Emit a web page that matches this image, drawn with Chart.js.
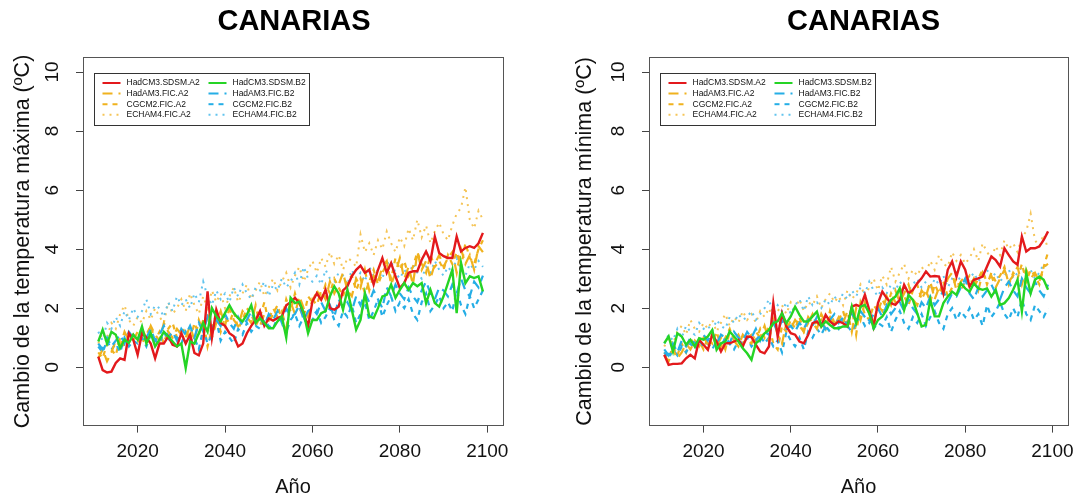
<!DOCTYPE html>
<html lang="es">
<head>
<meta charset="UTF-8">
<title>Canarias</title>
<script src="https://cdn.jsdelivr.net/npm/chart.js@4.4.1/dist/chart.umd.min.js"></script>
<style>
    html, body { margin: 0; padding: 0; background: #fff; }
    #wrap { position: relative; width: 1082px; height: 499px; }
    canvas { position: absolute; top: 0; }
    #tmax { left: 0; }
    #tmin { left: 541px; }
</style>
</head>
<body>
<div id="wrap">
    <canvas id="tmax" width="541" height="499"></canvas>
    <canvas id="tmin" width="541" height="499"></canvas>
</div>
<script>
    var years = [2011,2012,2013,2014,2015,2016,2017,2018,2019,2020,
        2021,2022,2023,2024,2025,2026,2027,2028,2029,2030,
        2031,2032,2033,2034,2035,2036,2037,2038,2039,2040,
        2041,2042,2043,2044,2045,2046,2047,2048,2049,2050,
        2051,2052,2053,2054,2055,2056,2057,2058,2059,2060,
        2061,2062,2063,2064,2065,2066,2067,2068,2069,2070,
        2071,2072,2073,2074,2075,2076,2077,2078,2079,2080,
        2081,2082,2083,2084,2085,2086,2087,2088,2089,2090,
        2091,2092,2093,2094,2095,2096,2097,2098,2099];
    var xTicks = [2020, 2040, 2060, 2080, 2100];
    var yTicks = [0, 2, 4, 6, 8, 10];
    var seriesNames = ['HadCM3.SDSM.A2', 'HadAM3.FIC.A2', 'CGCM2.FIC.A2', 'ECHAM4.FIC.A2',
        'HadCM3.SDSM.B2', 'HadAM3.FIC.B2', 'CGCM2.FIC.B2', 'ECHAM4.FIC.B2'];

    // temperatura maxima
    var maxSdsmA2 = [0.36,-0.1,-0.18,-0.15,0.14,0.3,0.25,1.15,0.93,0.42,
        1.15,1.0,0.8,0.3,0.8,0.8,1.04,0.76,0.7,1.15,
        0.8,1.1,0.48,0.4,0.8,2.57,1.0,1.95,1.5,1.4,
        1.15,1.05,0.7,0.8,1.15,1.4,1.6,1.9,1.4,1.65,
        1.58,1.66,1.72,2.1,2.2,2.35,2.17,1.83,1.38,2.23,
        2.5,2.28,2.62,2.0,1.95,2.05,2.6,2.74,3.08,3.3,
        3.44,3.2,3.3,2.8,3.3,3.7,3.2,3.53,3.08,2.68,
        2.85,3.2,3.25,3.25,3.64,3.92,3.6,4.43,3.87,3.76,
        3.7,3.7,4.43,3.92,4.04,4.1,4.04,4.2,4.55];
    var maxHadA2 = [0.3,0.6,0.2,0.5,0.9,0.7,1.2,0.9,1.1,0.8,
        1.3,1.0,1.4,1.1,0.9,1.5,1.2,1.0,1.3,1.1,
        1.0,1.4,0.9,1.6,1.2,1.8,1.0,1.5,1.9,1.4,
        2.0,1.6,1.4,1.9,1.7,1.5,2.1,1.4,1.8,1.6,
        2.0,1.7,1.9,1.3,2.2,1.8,2.4,2.0,1.7,2.3,
        2.1,2.6,2.3,2.9,2.5,2.8,3.2,2.6,2.4,3.0,
        2.7,3.3,2.6,3.1,2.9,3.4,3.6,2.8,3.2,3.7,
        3.0,3.4,2.8,3.9,3.3,3.6,3.0,3.5,3.8,3.4,
        3.7,3.9,3.2,4.0,3.5,3.8,3.3,4.1,3.9];
    var maxCgcmA2 = [0.5,0.3,0.8,0.6,0.4,1.0,0.7,1.1,0.9,1.2,
        0.8,1.1,1.4,0.9,1.2,0.8,1.3,1.5,1.0,1.2,
        1.3,0.9,1.5,1.1,1.6,0.7,1.3,1.8,1.2,1.7,
        1.5,1.9,1.3,1.6,2.0,1.8,1.4,1.7,2.2,1.5,
        1.8,2.1,1.6,2.3,1.9,2.5,2.0,1.7,2.4,2.2,
        2.6,2.3,2.8,2.5,3.0,2.7,2.4,2.9,3.1,2.6,
        3.0,2.5,2.9,3.3,2.8,3.2,3.5,3.0,3.7,3.3,
        3.6,3.1,3.4,3.9,3.5,3.2,3.8,3.4,3.6,3.3,
        3.8,3.5,3.9,3.4,4.2,3.7,3.5,4.0,4.3];
    var maxEchamA2 = [0.8,1.2,1.0,1.5,1.3,1.8,2.1,1.6,1.4,1.7,
        1.5,1.9,1.6,2.0,1.7,1.5,2.2,1.8,2.0,2.3,
        1.9,2.5,2.1,1.8,2.4,2.0,2.6,2.2,2.5,2.0,
        2.4,2.7,2.2,2.5,2.8,2.3,2.6,2.9,2.4,2.7,
        3.0,2.6,2.9,3.2,2.7,3.1,3.4,2.9,3.3,3.6,
        3.2,3.7,3.4,3.9,3.5,3.8,3.3,3.7,3.6,3.4,
        4.5,3.9,4.2,3.8,4.3,4.0,4.6,4.2,3.9,4.4,
        4.1,4.7,4.3,5.0,4.4,4.8,4.2,4.6,4.9,4.5,
        4.3,4.8,5.2,5.4,6.1,5.0,4.7,5.3,5.0];
    var maxSdsmB2 = [0.87,1.27,0.8,1.2,1.1,0.65,0.93,0.82,1.1,0.93,
        1.38,0.8,1.15,0.7,0.93,1.2,1.04,0.87,0.7,0.8,
        -0.03,0.87,0.8,1.15,1.5,1.2,2.0,1.72,1.55,1.83,
        2.1,1.83,1.66,1.55,1.78,2.1,1.5,1.66,1.5,1.32,
        1.32,1.55,1.72,1.0,2.35,2.17,2.22,1.83,1.15,1.6,
        1.6,1.83,1.9,2.4,2.74,2.5,1.95,2.62,1.95,1.27,
        1.6,2.5,1.72,1.66,2.0,2.4,2.45,2.8,2.35,2.62,
        2.85,2.62,2.85,2.74,2.85,2.17,2.62,2.17,2.05,2.4,
        2.85,3.3,1.83,3.53,2.85,3.08,3.02,3.08,2.57];
    var maxHadB2 = [0.8,0.6,1.0,0.7,0.9,1.1,0.8,1.2,1.0,0.9,
        1.2,1.0,1.3,0.9,1.1,1.4,1.0,1.2,0.9,1.3,
        1.1,1.4,1.0,1.5,1.2,1.7,1.3,1.6,1.4,1.8,
        1.5,1.3,1.7,1.4,1.6,1.9,1.5,1.7,1.4,1.8,
        1.6,1.9,1.5,2.0,1.7,1.8,2.1,1.6,1.9,2.0,
        1.8,2.2,1.9,2.1,1.7,2.3,2.0,2.2,1.9,2.4,
        2.1,2.5,2.2,2.6,2.3,2.0,2.7,2.4,2.8,2.5,
        2.3,2.7,2.4,2.2,2.6,2.9,2.5,2.3,2.7,2.6,
        2.4,2.8,2.5,3.0,2.6,2.4,2.9,2.7,3.1];
    var maxCgcmB2 = [0.7,0.5,0.9,0.6,0.8,0.5,1.0,0.7,0.9,0.8,
        1.0,0.7,1.1,0.9,0.8,1.2,0.9,1.1,1.0,0.8,
        1.2,0.9,1.0,0.6,1.3,0.8,1.1,1.6,0.9,1.2,
        1.0,0.8,1.3,1.1,1.5,1.2,1.4,1.3,1.6,1.4,
        1.3,1.7,1.5,1.2,1.6,1.8,1.4,1.7,1.3,1.6,
        1.9,1.5,1.7,2.0,1.6,1.4,1.9,1.7,2.1,1.5,
        1.8,2.2,1.6,1.9,2.3,1.7,2.1,2.4,1.9,2.2,
        2.0,2.3,1.8,1.6,2.2,2.5,1.9,2.1,2.4,2.0,
        2.2,1.9,2.6,2.1,1.8,2.4,2.0,2.3,2.6];
    var maxEchamB2 = [1.2,0.9,1.5,1.3,1.7,1.4,1.9,1.6,2.0,1.7,
        1.9,2.3,1.8,2.1,2.0,1.7,2.2,1.9,2.4,2.1,
        2.3,2.0,2.5,2.2,2.9,2.4,2.1,2.6,2.3,2.5,
        2.2,2.7,2.4,2.8,2.5,2.3,2.7,2.6,2.9,2.4,
        2.8,2.6,3.0,2.7,2.9,3.2,2.8,3.4,3.0,2.9,
        3.1,2.8,3.3,3.0,2.9,3.2,3.1,2.8,3.3,3.0,
        3.2,2.9,3.4,3.1,3.3,3.0,3.5,3.6,3.2,3.0,
        3.3,3.1,3.5,3.2,3.0,3.4,3.2,3.6,3.3,3.1,
        3.4,3.2,3.7,3.3,3.1,3.5,3.3,3.6,3.4];

    // temperatura minima
    var minSdsmA2 = [0.42,0.08,0.11,0.11,0.13,0.3,0.42,0.3,0.93,0.76,
        0.59,1.1,0.87,0.53,0.81,0.81,0.87,0.93,0.7,1.04,
        1.02,0.76,0.53,0.47,0.7,2.17,1.04,1.83,1.38,1.15,
        1.1,0.87,0.81,1.1,1.49,1.55,1.38,1.77,1.55,1.43,
        1.55,1.49,1.38,2.05,2.11,2.05,2.45,1.94,1.38,2.17,
        2.56,2.34,2.17,2.11,2.28,2.79,2.5,2.62,2.84,3.01,
        3.24,3.07,3.09,3.07,2.5,3.3,3.58,3.07,3.58,3.3,
        2.73,2.96,3.01,3.07,3.41,3.75,3.63,3.41,4.03,3.8,
        3.58,3.47,4.43,3.92,4.03,4.03,4.09,4.31,4.6];
    var minHadA2 = [0.4,0.2,0.6,0.3,0.5,0.8,0.6,0.9,0.7,1.0,
        0.8,1.1,0.7,1.0,0.6,1.2,0.9,0.7,1.1,0.9,
        0.8,1.2,1.0,1.4,0.9,1.6,1.1,0.8,1.5,1.3,
        1.6,1.4,1.2,1.7,1.5,1.3,1.8,1.5,1.7,1.4,
        1.7,1.5,1.9,1.2,2.0,1.6,2.2,1.8,1.5,2.1,
        1.9,2.4,2.1,2.6,2.2,2.5,2.8,2.3,2.1,2.6,
        2.4,2.9,2.3,2.7,2.5,3.0,3.2,2.6,2.9,3.1,
        2.7,3.0,2.6,3.2,2.9,3.1,2.7,3.0,3.3,2.9,
        3.1,3.4,2.8,3.3,3.0,3.2,2.9,3.4,3.5];
    var minCgcmA2 = [0.5,0.3,0.7,0.4,0.8,0.5,1.0,0.7,0.9,0.6,
        1.0,0.8,1.2,0.7,1.0,1.3,0.9,1.1,0.8,1.0,
        1.1,0.9,1.3,1.0,1.4,0.8,0.6,1.4,1.2,1.6,
        1.3,1.7,1.2,1.5,1.8,1.4,1.6,1.3,1.9,1.5,
        1.6,1.9,1.4,2.0,1.1,2.2,1.8,1.6,2.1,1.9,
        2.3,2.0,2.5,2.2,2.7,2.4,2.1,2.6,2.8,2.3,
        2.6,2.2,2.8,2.5,2.9,2.4,2.7,3.0,2.6,2.9,
        3.1,2.7,3.0,3.3,2.8,3.2,2.9,3.1,3.4,2.8,
        3.2,3.0,3.5,2.9,3.3,3.1,2.8,3.4,3.9];
    var minEchamA2 = [0.7,1.0,0.8,1.2,1.4,1.1,1.6,1.3,1.2,1.5,
        1.3,1.6,1.2,1.5,1.8,1.4,1.7,1.5,1.9,1.6,
        1.8,1.5,1.9,1.7,2.0,1.6,1.9,2.1,1.8,2.2,
        2.0,2.3,1.9,2.2,2.1,2.4,2.0,2.3,2.5,2.2,
        2.4,2.1,2.6,2.3,2.5,2.8,2.4,2.7,3.0,2.6,
        3.1,2.8,3.4,2.9,3.2,3.5,3.0,3.3,3.1,3.4,
        3.2,3.6,3.3,3.8,3.5,3.4,3.9,3.6,3.8,3.5,
        3.7,4.0,3.6,4.2,3.9,3.7,4.1,3.8,4.3,4.0,
        4.2,3.9,4.4,4.6,5.2,4.3,4.1,4.5,4.0];
    var minSdsmB2 = [0.81,1.04,0.53,1.15,1.04,0.76,0.93,0.7,0.98,0.93,
        1.04,1.26,0.59,0.81,0.87,1.21,1.04,0.87,0.64,0.47,
        0.25,0.81,0.93,1.15,1.26,1.49,1.55,1.83,1.49,1.72,
        2.05,1.77,1.55,1.55,1.72,1.88,1.38,1.55,1.43,1.32,
        1.32,1.38,1.38,2.05,1.49,2.05,2.11,1.83,1.32,1.6,
        1.72,1.94,2.28,2.39,2.67,1.94,2.45,2.28,1.83,1.38,
        1.43,2.28,1.72,1.72,2.17,2.39,2.56,2.45,2.84,2.67,
        2.56,2.84,2.67,2.62,2.67,2.39,2.62,2.11,2.17,2.34,
        2.62,2.96,1.89,3.19,2.5,2.96,3.07,2.96,2.62];
    var minHadB2 = [0.6,0.4,0.8,0.5,0.9,0.7,1.0,0.8,0.9,1.1,
        0.9,1.2,0.8,1.1,1.0,0.8,1.2,1.0,0.9,1.2,
        1.0,1.3,0.9,1.2,1.1,1.5,1.2,1.6,1.3,1.4,
        1.2,1.5,1.3,1.6,1.4,1.7,1.5,1.3,1.6,1.8,
        1.5,1.7,1.4,1.8,1.6,1.9,1.7,1.5,1.8,2.0,
        1.7,2.1,1.8,2.0,2.2,1.9,2.3,2.0,1.8,2.2,
        2.0,2.4,2.1,2.3,2.6,2.2,2.5,2.4,2.7,3.0,
        2.5,2.3,2.7,2.4,2.6,2.8,2.5,2.3,2.7,2.9,
        2.6,2.4,3.0,2.7,2.5,2.9,2.6,2.4,2.8];
    var minCgcmB2 = [0.5,0.3,0.6,0.4,0.7,0.5,0.8,0.6,0.9,0.7,
        0.8,0.6,0.9,0.7,1.0,0.8,0.6,0.9,0.8,1.0,
        0.7,0.9,1.1,0.8,1.0,0.7,0.9,0.5,1.2,0.9,
        0.7,1.0,0.6,1.2,1.0,1.3,1.1,1.4,1.2,1.5,
        1.3,1.6,1.4,1.2,1.5,1.7,1.4,1.6,1.3,1.5,
        1.4,1.7,1.2,1.6,1.9,1.5,1.3,1.7,1.5,1.8,
        1.4,1.7,1.9,1.5,1.3,1.8,2.0,1.6,1.9,1.7,
        2.0,1.6,1.8,1.4,2.1,1.7,1.9,2.2,1.8,1.6,
        2.0,1.7,2.3,1.8,1.6,2.1,1.9,1.7,2.0];
    var minEchamB2 = [0.8,1.1,0.9,1.3,1.0,1.4,1.2,1.1,1.5,1.3,
        1.4,1.2,1.6,1.4,1.3,1.7,1.5,1.8,1.6,1.7,
        1.9,1.6,1.8,2.0,2.3,1.8,2.1,1.9,2.2,1.8,
        2.1,2.3,1.9,2.4,2.1,2.2,2.0,2.3,2.1,2.4,
        2.2,2.5,2.3,2.6,2.4,2.7,2.5,2.9,2.6,2.4,
        2.7,2.5,2.8,2.6,2.9,2.7,2.6,2.8,3.0,2.7,
        2.9,2.6,3.0,2.8,3.1,2.7,3.0,3.2,2.9,2.8,
        3.0,3.2,2.9,3.1,3.3,3.0,3.2,2.9,3.1,3.3,
        3.0,3.2,3.4,3.1,3.3,3.0,3.2,3.5,3.3];

    // estilos por serie (mismo orden que seriesNames)
    var lineColors = ['#e3191c', '#f0b21e', '#f0b21e', '#f5c558', '#25d425', '#25aee6', '#25aee6', '#62c4ee'];
    var lineWidths = [2.4, 2.2, 2.2, 2, 2.4, 2.2, 2.2, 2];
    var lineDashes = [[], [10, 6], [5, 5], [2, 5], [], [10, 6], [5, 5], [2, 5]];
    var drawOrder = [1, 3, 5, 7, 0, 2, 4, 6];

    Chart.defaults.font.family = "'Liberation Sans', Arial, Helvetica, sans-serif";

    var boxPlugin = {
        id: 'box',
        afterDatasetsDraw: function (chart) {
            var a = chart.chartArea, ctx = chart.ctx;
            ctx.save();
            ctx.strokeStyle = '#555';
            ctx.lineWidth = 1;
            ctx.strokeRect(Math.round(a.left) + 0.5, Math.round(a.top) + 0.5,
                Math.round(a.right - a.left), Math.round(a.bottom - a.top));
            ctx.restore();
        }
    };

    // titulo centrado sobre el area del grafico (como en R)
    var plotTitle = {
        id: 'plotTitle',
        afterDraw: function (chart, args, opts) {
            var a = chart.chartArea, ctx = chart.ctx;
            ctx.save();
            ctx.font = "bold 29px 'Liberation Sans', Arial, sans-serif";
            ctx.fillStyle = '#000';
            ctx.textAlign = 'center';
            ctx.textBaseline = 'middle';
            ctx.fillText(opts.text, (a.left + a.right) / 2 + opts.shift, 22);
            ctx.restore();
        }
    };

    // leyenda en dos columnas dentro del area del grafico
    var boxLegend = {
        id: 'boxLegend',
        afterDatasetsDraw: function (chart) {
            var a = chart.chartArea, ctx = chart.ctx;
            var x0 = Math.round(a.left + 10.5) + 0.5, y0 = Math.round(a.top + 16) + 0.5;
            ctx.save();
            ctx.fillStyle = '#fff';
            ctx.fillRect(x0, y0, 215, 52);
            ctx.strokeStyle = '#333';
            ctx.lineWidth = 1;
            ctx.strokeRect(x0, y0, 215, 52);
            ctx.font = "8.5px 'Liberation Sans', Arial, sans-serif";
            ctx.textBaseline = 'middle';
            chart.data.datasets.forEach(function (ds, i) {
                var col = i < 4 ? 0 : 1, row = i % 4;
                var lx = x0 + 8 + col * 106, ly = y0 + 9.5 + row * 10.6;
                ctx.strokeStyle = ds.borderColor;
                ctx.lineWidth = 2;
                ctx.setLineDash(ds.borderDash);
                ctx.beginPath();
                ctx.moveTo(lx, ly);
                ctx.lineTo(lx + 18, ly);
                ctx.stroke();
                ctx.setLineDash([]);
                ctx.fillStyle = '#111';
                ctx.fillText(ds.label, lx + 24, ly);
            });
            ctx.restore();
        }
    };

    function plainLabel(v) { return String(v); }

    function makePanel(id, yTitle, values, axisW, padR, titlePad, titleShift) {
        var sets = seriesNames.map(function (name, i) {
            return {
                label: name,
                data: values[i].map(function (v, k) { return {x: years[k], y: v}; }),
                borderColor: lineColors[i],
                borderWidth: lineWidths[i],
                borderDash: lineDashes[i],
                order: drawOrder[i],
                pointRadius: 0,
                fill: false,
                tension: 0
            };
        });
        return new Chart(document.getElementById(id), {
            type: 'line',
            data: {datasets: sets},
            options: {
                responsive: false,
                animation: false,
                devicePixelRatio: 1,
                layout: {padding: {left: 0, right: padR, top: 57.3, bottom: 0}},
                plugins: {
                    legend: {display: false},
                    tooltip: {enabled: false},
                    title: {display: false},
                    plotTitle: {text: 'CANARIAS', shift: titleShift}
                },
                scales: {
                    x: {
                        type: 'linear', min: 2007.5, max: 2103.6,
                        afterBuildTicks: function (s) { s.ticks = xTicks.map(function (v) { return {value: v}; }); },
                        afterFit: function (s) { s.height = 73.4; },
                        grid: {drawOnChartArea: false, tickLength: 7, color: '#444'},
                        border: {display: false},
                        ticks: {color: '#111', font: {size: 19}, padding: 8, maxRotation: 0, autoSkip: false, callback: plainLabel},
                        title: {display: true, text: 'Año', color: '#111', font: {size: 20}, padding: 0}
                    },
                    y: {
                        type: 'linear', min: -1.98, max: 10.5,
                        afterBuildTicks: function (s) { s.ticks = yTicks.map(function (v) { return {value: v}; }); },
                        afterFit: function (s) { s.width = axisW; },
                        grid: {drawOnChartArea: false, tickLength: 7, color: '#444'},
                        border: {display: false},
                        ticks: {
                            color: '#111', font: {size: 19}, padding: 13, autoSkip: false,
                            minRotation: 90, maxRotation: 90, crossAlign: 'center', callback: plainLabel
                        },
                        title: {
                            display: true, text: yTitle, color: '#111', font: {size: 21.5},
                            padding: {top: titlePad, bottom: 0}
                        }
                    }
                }
            },
            plugins: [boxPlugin, boxLegend, plotTitle]
        });
    }

    makePanel('tmax', 'Cambio de la temperatura máxima (ºC)',
        [maxSdsmA2, maxHadA2, maxCgcmA2, maxEchamA2, maxSdsmB2, maxHadB2, maxCgcmB2, maxEchamB2],
        83, 38, 10, 1);
    makePanel('tmin', 'Cambio de la temperatura mínima (ºC)',
        [minSdsmA2, minHadA2, minCgcmA2, minEchamA2, minSdsmB2, minHadB2, minCgcmB2, minEchamB2],
        108, 12, 31, 5);
</script>
</body>
</html>
